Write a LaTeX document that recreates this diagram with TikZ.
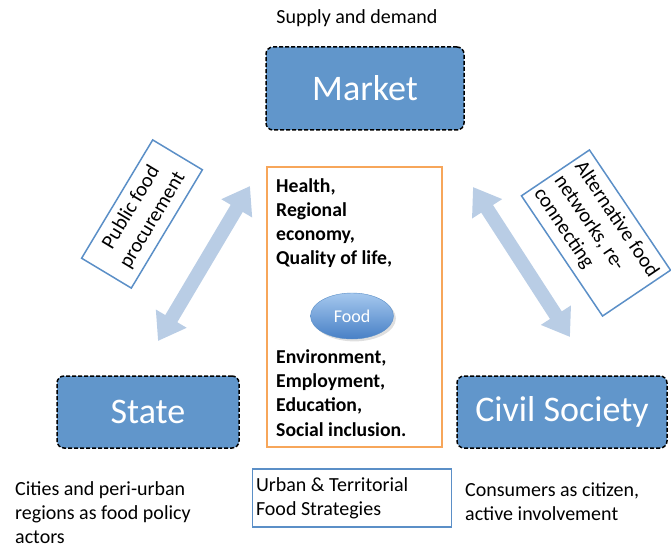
\documentclass[tikz,border=0pt]{standalone}
\usepackage{fontspec}
\setmainfont{Carlito}
\usetikzlibrary{positioning, arrows.meta, shapes.geometric, shadows}

\definecolor{boxblue}{RGB}{97,150,203}
\definecolor{arrowblue}{RGB}{185,205,229}
\definecolor{edgeblue}{RGB}{91,143,199}
\definecolor{foodorange}{RGB}{247,166,90}

\tikzset{
  actor/.style={draw=black, dash pattern=on 4pt off 2pt, line width=1.5pt,
    rounded corners=7pt, fill=boxblue, text=white, font=\fontsize{36}{40}\selectfont},
  note/.style={font=\fontsize{20}{24}\selectfont, align=left, inner sep=0pt},
  frame/.style={draw=edgeblue, line width=1.5pt, font=\fontsize{20}{24}\selectfont},
  twoway/.style={draw=arrowblue, line width=14pt,
    {Triangle[width=34pt,length=26pt]}-{Triangle[width=34pt,length=26pt]}},
}

\begin{document}
\begin{tikzpicture}[x=1pt,y=-1pt]
\useasboundingbox (0,0) rectangle (671,548);
% Acteurs
\node[actor, minimum width=198pt, minimum height=83pt] (market) at (365,88.5) {Market};
\node[actor, minimum width=182pt, minimum height=72pt] (state) at (148,412) {State};
\node[actor, minimum width=210pt, minimum height=72pt] (civil) at (562,412) {Civil Society};
\node[note, anchor=base] (supply) at (357,24) {Supply and demand};

% Valeurs autour de Food
\node[draw=foodorange, line width=1.5pt, minimum width=175pt, minimum height=280pt] (values) at (354.5,307) {};
\foreach \n/\y/\t in {1/192/{Health,},2/216/{Regional},3/240/{economy,},4/264/{Quality of life,},
  5/363/{Environment,},6/387/{Employment,},7/411/{Education,},8/436/{Social inclusion.}} {
  \node[note, font=\fontsize{19.7}{24}\selectfont\bfseries, anchor=base west] (v\n) at (276,\y) {\t};
}
\node[ellipse, draw=edgeblue, minimum width=83pt, minimum height=46pt,
  top color={rgb,255:red,165;green,200;blue,238}, bottom color={rgb,255:red,72;green,128;blue,198},
  text=white, font=\fontsize{18}{20}\selectfont, drop shadow={opacity=0.25}] (food) at (352,316) {Food};

% Fleches
\coordinate (ls) at (250,186);
\coordinate (le) at (158,341);
\coordinate (rs) at (473,187);
\coordinate (re) at (570,337);
\draw[twoway] (ls) -- (le);
\draw[twoway] (rs) -- (re);

% Cadres inclines
\node[frame, rotate=59, minimum width=138pt, minimum height=58pt, align=center,
  font=\fontsize{20.5}{25}\selectfont] (procure) at (142,214) {Public food\\procurement};
\node[frame, rotate=-56, minimum width=145pt, minimum height=82pt, align=flush left,
  font=\fontsize{20.5}{24.5}\selectfont] (altnet) at (596,233) {Alternative food\\networks, re-\\connecting};

% Bas
\node[note, anchor=north west] (cities) at (15,481) {Cities and peri-urban\\regions as food policy\\actors};
\node[frame, text width=192pt, align=flush left, minimum height=58pt] (strategy) at (352,498) {Urban \& Territorial\\Food Strategies};
\node[note, anchor=north west] (consumers) at (465,482) {Consumers as citizen,\\active involvement};
\end{tikzpicture}
\end{document}
